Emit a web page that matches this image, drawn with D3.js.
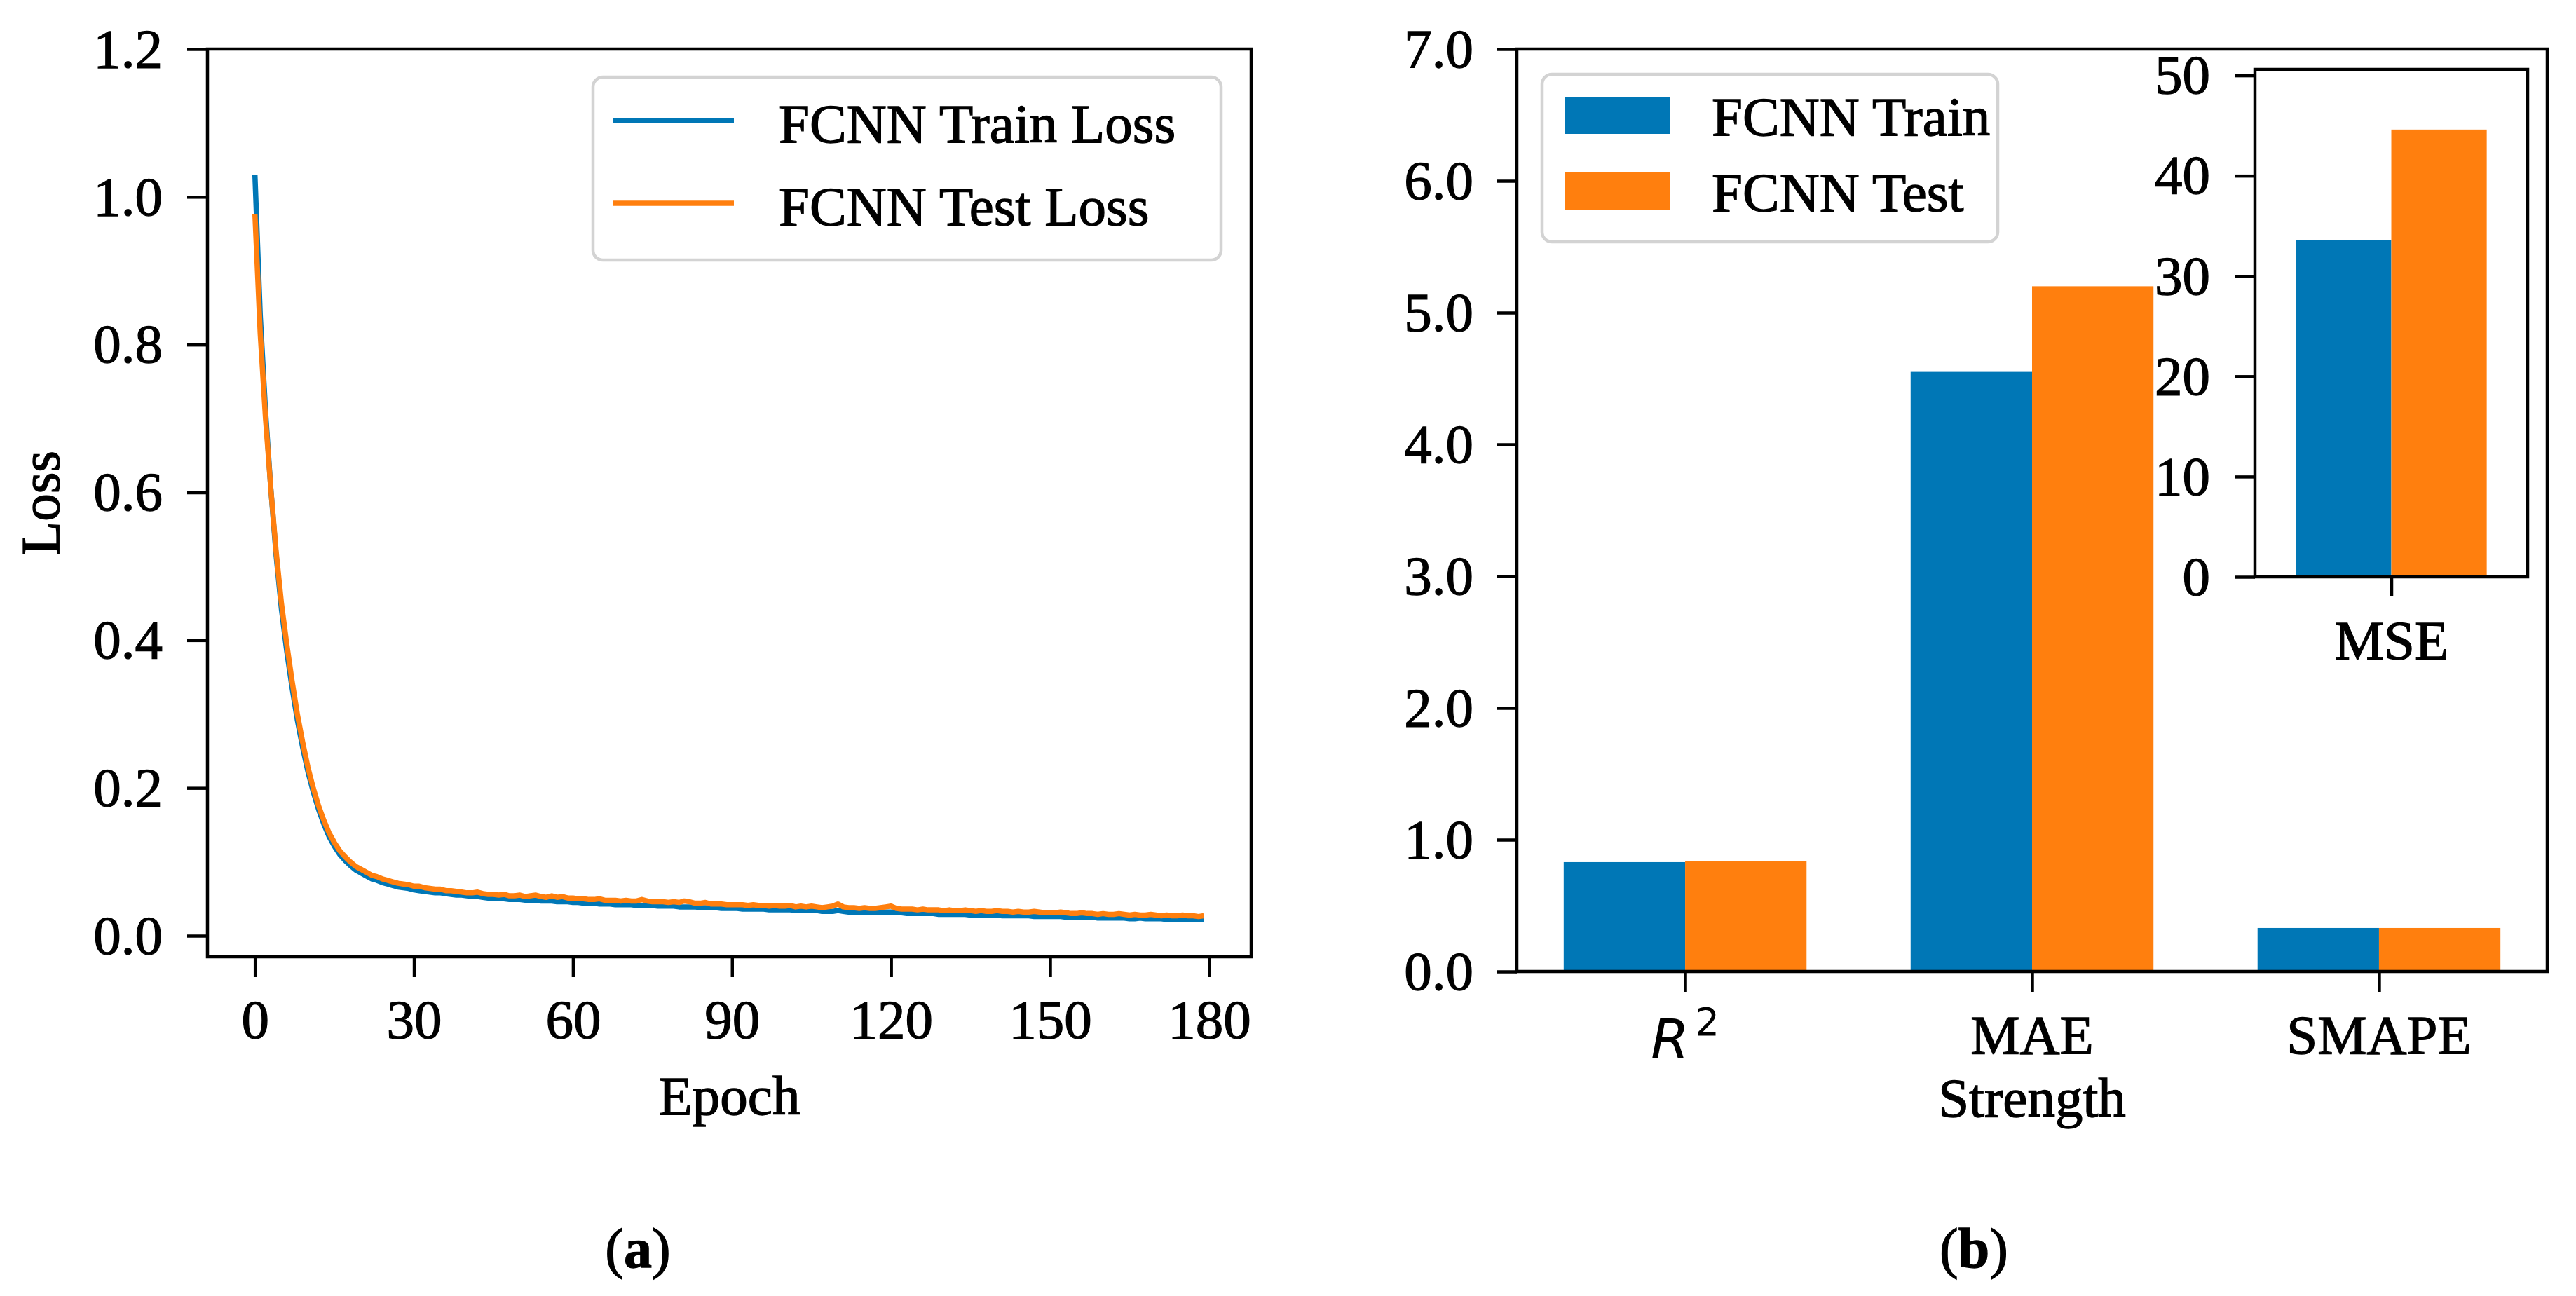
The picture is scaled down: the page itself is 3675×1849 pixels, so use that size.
<!DOCTYPE html>
<html><head><meta charset="utf-8">
<script src="https://cdn.jsdelivr.net/npm/d3@7"></script>
<style>html,body{margin:0;padding:0;background:#fff;} svg{display:block;}</style>
</head><body>
<script>
// ---------------- DATA ----------------
const trainLoss = [
1.030,0.840,0.710,0.605,0.515,0.442,0.385,0.336,0.292,0.255,
0.222,0.195,0.171,0.151,0.134,0.121,0.110,0.102,0.095,0.089,
0.085,0.081,0.077,0.075,0.072,0.070,0.068,0.066,0.065,0.064,
0.062,0.061,0.060,0.059,0.058,0.058,0.057,0.056,0.055,0.055,
0.054,0.053,0.053,0.052,0.051,0.051,0.050,0.050,0.049,0.049,
0.049,0.048,0.048,0.048,0.047,0.047,0.047,0.046,0.046,0.046,
0.045,0.045,0.044,0.044,0.044,0.043,0.043,0.043,0.042,0.042,
0.042,0.042,0.041,0.041,0.041,0.041,0.040,0.040,0.040,0.040,
0.039,0.039,0.039,0.039,0.038,0.038,0.038,0.038,0.037,0.037,
0.037,0.037,0.036,0.036,0.036,0.036,0.036,0.035,0.035,0.035,
0.035,0.035,0.034,0.034,0.034,0.034,0.034,0.033,0.033,0.033,
0.034,0.033,0.032,0.032,0.032,0.032,0.032,0.031,0.031,0.032,
0.032,0.031,0.031,0.030,0.030,0.030,0.030,0.030,0.030,0.029,
0.029,0.029,0.029,0.029,0.029,0.028,0.028,0.028,0.028,0.028,
0.028,0.027,0.027,0.027,0.027,0.027,0.027,0.026,0.026,0.026,
0.026,0.026,0.026,0.025,0.025,0.025,0.025,0.025,0.025,0.024,
0.024,0.024,0.024,0.024,0.024,0.023,0.023,0.024,0.023,0.023,
0.023,0.023,0.022,0.022,0.022,0.022,0.022,0.022,0.022,0.022];
const testLoss = [
0.977,0.815,0.700,0.605,0.520,0.450,0.395,0.345,0.300,0.262,
0.228,0.200,0.176,0.156,0.139,0.126,0.115,0.107,0.100,0.094,
0.090,0.086,0.082,0.080,0.077,0.075,0.073,0.071,0.070,0.069,
0.067,0.067,0.065,0.064,0.063,0.063,0.061,0.061,0.060,0.059,
0.058,0.058,0.059,0.057,0.056,0.056,0.055,0.056,0.054,0.054,
0.055,0.053,0.054,0.055,0.053,0.052,0.054,0.052,0.053,0.051,
0.051,0.050,0.050,0.049,0.049,0.050,0.048,0.048,0.048,0.047,
0.048,0.047,0.047,0.049,0.047,0.046,0.046,0.046,0.045,0.046,
0.045,0.047,0.046,0.044,0.044,0.045,0.043,0.043,0.043,0.042,
0.042,0.042,0.042,0.041,0.042,0.041,0.041,0.040,0.041,0.040,
0.040,0.041,0.039,0.040,0.039,0.040,0.039,0.038,0.039,0.040,
0.043,0.039,0.038,0.038,0.037,0.038,0.037,0.037,0.038,0.039,
0.040,0.037,0.036,0.036,0.036,0.035,0.036,0.035,0.035,0.035,
0.034,0.035,0.034,0.034,0.035,0.034,0.033,0.034,0.033,0.033,
0.034,0.033,0.033,0.032,0.033,0.032,0.032,0.033,0.032,0.031,
0.031,0.031,0.032,0.031,0.030,0.030,0.031,0.030,0.030,0.029,
0.030,0.029,0.029,0.030,0.029,0.028,0.029,0.028,0.028,0.029,
0.028,0.027,0.028,0.027,0.027,0.028,0.027,0.027,0.026,0.027];
const epochs = trainLoss.map((_, i) => i);
const lossSeriesNames = ["FCNN Train Loss", "FCNN Test Loss"];
const lossTicks = [0.0, 0.2, 0.4, 0.6, 0.8, 1.0, 1.2];
const epochTicks = [0, 30, 60, 90, 120, 150, 180];

const metricCategories = ["R2", "MAE", "SMAPE"];
const metricTrain = [0.83, 4.55, 0.33];
const metricTest = [0.84, 5.20, 0.33];
const metricTicks = [0, 1, 2, 3, 4, 5, 6, 7];
const barSeriesNames = ["FCNN Train", "FCNN Test"];

const mseCategories = ["MSE"];
const mseTrain = [33.6];
const mseTest = [44.6];
const mseTicks = [0, 10, 20, 30, 40, 50];

// ---------------- STYLE ----------------
const W = 3675, H = 1849;
const BLUE = "#0077b6", ORANGE = "#ff7f0e";
const SERIF = "'Liberation Serif','Times New Roman',Times,serif";
const FS = 79, SW = 4.5, TL = 29, TXT_STROKE = 1.3, LW = 7.5;

const svg = d3.select("body").append("svg")
  .attr("width", W).attr("height", H).attr("viewBox", `0 0 ${W} ${H}`)
  .style("background", "#fff");

function heavy(sel) {
  return sel.attr("stroke", "#000").attr("stroke-width", TXT_STROKE).attr("paint-order", "stroke");
}
function styleAxis(g) {
  g.select(".domain").remove();
  g.selectAll(".tick line").attr("stroke", "#000").attr("stroke-width", SW);
  heavy(g.selectAll(".tick text").attr("font-family", SERIF).attr("font-size", FS).attr("fill", "#000"));
}

// ---------------- PANEL (a) ----------------
const A = {x0: 296, x1: 1785, y0: 70, y1: 1365};
const xA = d3.scaleLinear([-8.95, 187.95], [A.x0, A.x1]);
const yA = d3.scaleLinear([-0.02846, 1.2], [A.y1, A.y0]);

const gA = svg.append("g");
gA.append("g").attr("transform", `translate(0,${A.y1})`)
  .call(d3.axisBottom(xA).tickValues(epochTicks).tickSize(TL).tickPadding(31).tickFormat(d3.format("d")))
  .call(styleAxis);
gA.append("g").attr("transform", `translate(${A.x0},0)`)
  .call(d3.axisLeft(yA).tickValues(lossTicks).tickSize(TL).tickPadding(35).tickFormat(d3.format(".1f")))
  .call(styleAxis);

const lineA = d3.line().x((d, i) => xA(epochs[i])).y(d => yA(d));
[[trainLoss, BLUE], [testLoss, ORANGE]].forEach(([s, c]) => {
  gA.append("path").datum(s).attr("d", lineA).attr("fill", "none")
    .attr("stroke", c).attr("stroke-width", LW).attr("stroke-linejoin", "round").attr("stroke-linecap", "butt");
});
gA.append("rect").attr("x", A.x0).attr("y", A.y0).attr("width", A.x1 - A.x0).attr("height", A.y1 - A.y0)
  .attr("fill", "none").attr("stroke", "#000").attr("stroke-width", SW);

// legend (a)
gA.append("rect").attr("x", 846).attr("y", 110).attr("width", 896).attr("height", 261).attr("rx", 14)
  .attr("fill", "#fff").attr("fill-opacity", 0.8).attr("stroke", "#d3d3d3").attr("stroke-width", SW);
lossSeriesNames.forEach((name, i) => {
  const ly = 172 + i * 118;
  gA.append("line").attr("x1", 875).attr("x2", 1047).attr("y1", ly).attr("y2", ly)
    .attr("stroke", i === 0 ? BLUE : ORANGE).attr("stroke-width", LW);
  heavy(gA.append("text").attr("x", 1111).attr("y", ly + 31).attr("font-family", SERIF).attr("font-size", FS)
    .text(name));
});

heavy(gA.append("text").attr("x", (A.x0 + A.x1) / 2).attr("y", 1590).attr("text-anchor", "middle")
  .attr("font-family", SERIF).attr("font-size", FS).text("Epoch"));
heavy(gA.append("text").attr("transform", `translate(84,${(A.y0 + A.y1) / 2}) rotate(-90)`).attr("text-anchor", "middle")
  .attr("font-family", SERIF).attr("font-size", FS).text("Loss"));
const capA = heavy(gA.append("text").attr("x", 910).attr("y", 1808).attr("text-anchor", "middle")
  .attr("font-family", SERIF).attr("font-size", 80));
capA.append("tspan").text("(");
capA.append("tspan").attr("font-weight", "bold").text("a");
capA.append("tspan").text(")");

// ---------------- PANEL (b) ----------------
const B = {x0: 2164, x1: 3634, y0: 70, y1: 1386};
const xB = d3.scaleLinear([-0.485, 2.485], [B.x0, B.x1]);
const yB = d3.scaleLinear([0, 7], [B.y1, B.y0]);
const BW = 0.35;
const gB = svg.append("g");

gB.append("g").attr("transform", `translate(${B.x0},0)`)
  .call(d3.axisLeft(yB).tickValues(metricTicks).tickSize(TL).tickPadding(33).tickFormat(d3.format(".1f")))
  .call(styleAxis);
gB.append("g").attr("transform", `translate(0,${B.y1})`)
  .call(d3.axisBottom(xB).tickValues(metricCategories.map((_, i) => i)).tickSize(TL).tickFormat(() => ""))
  .call(styleAxis);

metricCategories.forEach((cat, i) => {
  gB.append("rect").attr("x", xB(i - BW)).attr("width", xB(i) - xB(i - BW))
    .attr("y", yB(metricTrain[i])).attr("height", yB(0) - yB(metricTrain[i])).attr("fill", BLUE);
  gB.append("rect").attr("x", xB(i)).attr("width", xB(i + BW) - xB(i))
    .attr("y", yB(metricTest[i])).attr("height", yB(0) - yB(metricTest[i])).attr("fill", ORANGE);
});

// category labels
metricCategories.forEach((cat, i) => {
  if (cat === "R2") {
    const t = gB.append("text").attr("x", xB(i)).attr("y", 1510).attr("text-anchor", "middle")
      .attr("font-family", "'DejaVu Sans',sans-serif").attr("font-size", FS);
    t.append("tspan").attr("font-style", "italic").text("R");
    t.append("tspan").attr("font-size", 55).attr("dx", 8).attr("dy", -33).text("2");
  } else if (cat === "MAE") {
    const t = heavy(gB.append("text").attr("text-anchor", "middle").attr("font-family", SERIF).attr("font-size", FS));
    t.append("tspan").attr("x", xB(i)).attr("y", 1503).text("MAE");
    t.append("tspan").attr("x", xB(i)).attr("y", 1593).text("Strength");
  } else {
    heavy(gB.append("text").attr("x", xB(i)).attr("y", 1503).attr("text-anchor", "middle")
      .attr("font-family", SERIF).attr("font-size", FS).text(cat));
  }
});

gB.append("rect").attr("x", B.x0).attr("y", B.y0).attr("width", B.x1 - B.x0).attr("height", B.y1 - B.y0)
  .attr("fill", "none").attr("stroke", "#000").attr("stroke-width", SW);

// legend (b)
gB.append("rect").attr("x", 2200).attr("y", 106).attr("width", 650).attr("height", 239).attr("rx", 14)
  .attr("fill", "#fff").attr("fill-opacity", 0.8).attr("stroke", "#d3d3d3").attr("stroke-width", SW);
barSeriesNames.forEach((name, i) => {
  const py = 138 + i * 108;
  gB.append("rect").attr("x", 2232).attr("y", py).attr("width", 150).attr("height", 53)
    .attr("fill", i === 0 ? BLUE : ORANGE);
  heavy(gB.append("text").attr("x", 2442).attr("y", py + 55).attr("font-family", SERIF).attr("font-size", FS).text(name));
});

// inset
const I = {x0: 3217, x1: 3606, y0: 99, y1: 823};
const xI = d3.scaleLinear([-0.5, 0.5], [I.x0, I.x1]);
const yI = d3.scaleLinear([0, 50.6], [I.y1, I.y0]);
const gI = svg.append("g");
gI.append("rect").attr("x", I.x0).attr("y", I.y0).attr("width", I.x1 - I.x0).attr("height", I.y1 - I.y0).attr("fill", "#fff");
mseCategories.forEach((cat, i) => {
  gI.append("rect").attr("x", xI(i - BW)).attr("width", xI(i) - xI(i - BW))
    .attr("y", yI(mseTrain[i])).attr("height", yI(0) - yI(mseTrain[i])).attr("fill", BLUE);
  gI.append("rect").attr("x", xI(i)).attr("width", xI(i + BW) - xI(i))
    .attr("y", yI(mseTest[i])).attr("height", yI(0) - yI(mseTest[i])).attr("fill", ORANGE);
});
gI.append("g").attr("transform", `translate(${I.x0},0)`)
  .call(d3.axisLeft(yI).tickValues(mseTicks).tickSize(TL).tickPadding(35).tickFormat(d3.format("d")))
  .call(styleAxis);
gI.append("g").attr("transform", `translate(0,${I.y1})`)
  .call(d3.axisBottom(xI).tickValues(mseCategories.map((_, i) => i)).tickSize(28).tickPadding(33)
    .tickFormat(i => mseCategories[i]))
  .call(styleAxis);
gI.append("rect").attr("x", I.x0).attr("y", I.y0).attr("width", I.x1 - I.x0).attr("height", I.y1 - I.y0)
  .attr("fill", "none").attr("stroke", "#000").attr("stroke-width", SW);

const capB = heavy(gB.append("text").attr("x", 2816).attr("y", 1808).attr("text-anchor", "middle")
  .attr("font-family", SERIF).attr("font-size", 80));
capB.append("tspan").text("(");
capB.append("tspan").attr("font-weight", "bold").text("b");
capB.append("tspan").text(")");
</script>
</body></html>
